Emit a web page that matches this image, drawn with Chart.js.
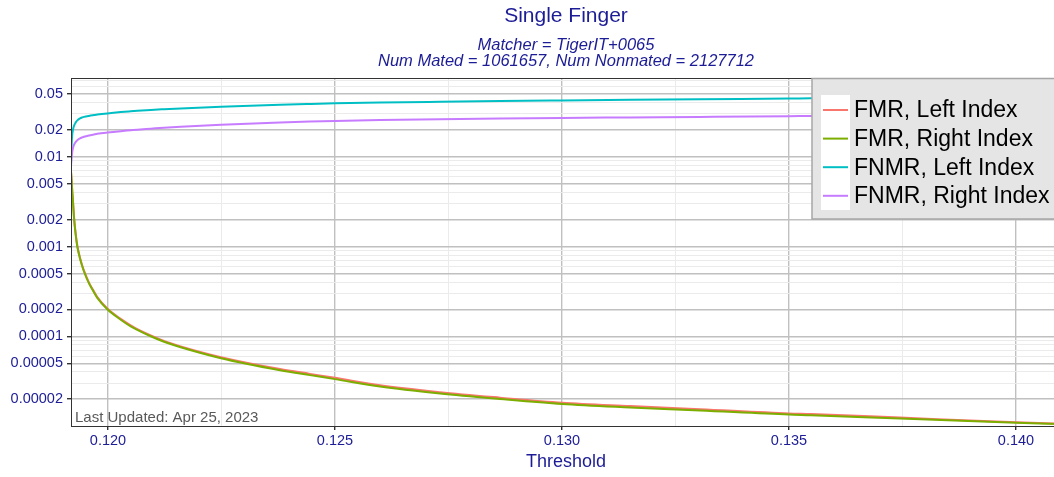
<!DOCTYPE html>
<html>
<head>
<meta charset="utf-8">
<title>Single Finger</title>
<script src="https://cdn.jsdelivr.net/npm/chart.js@4.4.0/dist/chart.umd.min.js"></script>
<style>
  html, body { margin: 0; padding: 0; background: #fff; overflow: hidden; }
  #wrap { width: 1070px; height: 477px; }
</style>
</head>
<body>
<div id="wrap"><canvas id="detChart" width="1070" height="477"></canvas></div>
<script>
// thresholds shared by all four curves
const thresholds = [
  0.119185, 0.119195, 0.119205, 0.119214, 0.119230, 0.119251, 0.119290, 0.119324,
  0.119383, 0.119434, 0.119471, 0.119581, 0.119692, 0.119764, 0.119985, 0.120280,
  0.120500, 0.120645, 0.120941, 0.121233, 0.121601, 0.122489, 0.123789, 0.124449,
  0.125000, 0.125991, 0.127313, 0.128634, 0.130000, 0.131500, 0.133040, 0.135000,
  0.135485, 0.137445, 0.140000, 0.140991
];

const fmrLeft = [
  0.00695, 0.00582, 0.00486, 0.00406, 0.00314, 0.00214, 0.00136, 0.00102,
  0.000751, 0.000611, 0.000538, 0.000396, 0.000315, 0.000274, 0.000204, 0.000156,
  0.000132, 0.000120, 0.000102, 0.0000887, 0.0000772, 0.0000585, 0.0000431, 0.0000381,
  0.0000344, 0.0000284, 0.0000238, 0.0000207, 0.0000182, 0.0000167, 0.0000154, 0.0000138,
  0.0000136, 0.0000124, 0.0000110, 0.0000106
];

const fmrRight = [
  0.00681, 0.00570, 0.00476, 0.00398, 0.00308, 0.00210, 0.00133, 0.00100,
  0.000736, 0.000599, 0.000527, 0.000388, 0.000308, 0.000268, 0.000200, 0.000153,
  0.000129, 0.000118, 0.000100, 0.0000869, 0.0000755, 0.0000570, 0.0000419, 0.0000369,
  0.0000333, 0.0000275, 0.0000230, 0.0000200, 0.0000176, 0.0000161, 0.0000149, 0.0000134,
  0.0000132, 0.0000121, 0.0000109, 0.0000105
];

const fnmrLeft = [
  0.00858, 0.01259, 0.01585, 0.01802, 0.02021, 0.02211, 0.02417, 0.02545,
  0.02678, 0.02747, 0.02783, 0.02855, 0.02914, 0.02951, 0.03043, 0.03146,
  0.03211, 0.03252, 0.03328, 0.03388, 0.03458, 0.03612, 0.03802, 0.03881,
  0.03941, 0.04023, 0.04106, 0.04181, 0.04245, 0.04311, 0.04378, 0.04457,
  0.04480, 0.04549, 0.04631, 0.04655
];

const fnmrRight = [
  0.00794, 0.00926, 0.01052, 0.01151, 0.01259, 0.01359, 0.01468, 0.01533,
  0.01605, 0.01647, 0.01673, 0.01729, 0.01774, 0.01802, 0.01862, 0.01930,
  0.01975, 0.02006, 0.02058, 0.02111, 0.02166, 0.02279, 0.02411, 0.02467,
  0.02505, 0.02564, 0.02624, 0.02671, 0.02712, 0.02747, 0.02783, 0.02833,
  0.02848, 0.02892, 0.02944, 0.02967
];

const seriesNames = ["FMR, Left Index", "FMR, Right Index", "FNMR, Left Index", "FNMR, Right Index"];
const seriesColors = ["#F8766D", "#7CAE00", "#00BFC4", "#C77CFF"];

const yTickValues = [0.05, 0.02, 0.01, 0.005, 0.002, 0.001, 0.0005, 0.0002, 0.0001, 0.00005, 0.00002];
const yTickLabels = ["0.05", "0.02", "0.01", "0.005", "0.002", "0.001", "0.0005", "0.0002", "0.0001", "0.00005", "0.00002"];
const yMinorValues = [
  0.07, 0.06, 0.04, 0.03,
  0.009, 0.008, 0.007, 0.006, 0.004, 0.003,
  0.0009, 0.0008, 0.0007, 0.0006, 0.0004, 0.0003,
  0.00009, 0.00008, 0.00007, 0.00006, 0.00004, 0.00003
];
const xTickValues = [0.120, 0.125, 0.130, 0.135, 0.140];
const xTickLabels = ["0.120", "0.125", "0.130", "0.135", "0.140"];
const xMinorValues = [0.1225, 0.1275, 0.1325, 0.1375];

const titleText = "Single Finger";
const subtitleLines = ["Matcher = TigerIT+0065", "Num Mated = 1061657, Num Nonmated = 2127712"];
const footNote = "Last Updated: Apr 25, 2023";

const BLUE = "#1c1c96";
const FONT = "'Liberation Sans', Arial, Helvetica, sans-serif";
const MAJOR_GRID = "#c0c0c0";
const MINOR_GRID = "#ebebeb";

Chart.defaults.font.family = FONT;

function makeSeries(values) {
  return thresholds.map((t, i) => ({ x: t, y: values[i] }));
}

// title, legend, border and footnote, drawn around the panel like the R plot
const decorPlugin = {
  id: "decor",
  afterDraw(chart) {
    const ctx = chart.ctx;
    const area = chart.chartArea;
    const cx = (area.left + area.right) / 2;
    ctx.save();

    // panel border
    ctx.strokeStyle = "#333333";
    ctx.lineWidth = 1;
    ctx.strokeRect(area.left + 0.5, area.top + 0.5, area.right - area.left, area.bottom - area.top);

    // footnote
    ctx.fillStyle = "#595959";
    ctx.font = "15px " + FONT;
    ctx.textAlign = "left";
    ctx.textBaseline = "middle";
    ctx.fillText(footNote, area.left + 4, 418);

    // legend
    ctx.fillStyle = "#e5e5e5";
    ctx.fillRect(812, 78.5, 260, 140.5);
    ctx.strokeStyle = "#a6a6a6";
    ctx.lineWidth = 1.5;
    ctx.strokeRect(812, 78.5, 260, 140.5);
    ctx.fillStyle = "#ffffff";
    ctx.fillRect(821, 95, 29, 115);
    ctx.font = "23px " + FONT;
    chart.data.datasets.forEach((ds, i) => {
      const y = 110 + i * 28.6;
      ctx.strokeStyle = ds.borderColor;
      ctx.lineWidth = 2;
      ctx.beginPath();
      ctx.moveTo(823, y);
      ctx.lineTo(848, y);
      ctx.stroke();
      ctx.fillStyle = "#000000";
      ctx.fillText(ds.label, 854, y + 1);
    });

    // titles
    ctx.fillStyle = BLUE;
    ctx.textAlign = "center";
    ctx.font = "21px " + FONT;
    ctx.fillText(titleText, cx, 16);
    ctx.font = "italic 16.5px " + FONT;
    subtitleLines.forEach((line, i) => ctx.fillText(line, cx, 45.5 + i * 16));

    ctx.restore();
  }
};

const ctx = document.getElementById("detChart");

new Chart(ctx, {
  type: "line",
  data: {
    datasets: [fmrLeft, fmrRight, fnmrLeft, fnmrRight].map((vals, i) => ({
      label: seriesNames[i],
      data: makeSeries(vals),
      borderColor: seriesColors[i],
      backgroundColor: seriesColors[i],
      borderWidth: 2,
      pointRadius: 0,
      fill: false,
      cubicInterpolationMode: "monotone",
      order: 4 - i
    }))
  },
  options: {
    responsive: false,
    animation: false,
    layout: { padding: { top: 78, right: 9, left: 0, bottom: 0 } },
    plugins: {
      legend: { display: false },
      title: { display: false },
      tooltip: { enabled: false }
    },
    scales: {
      x: {
        type: "linear",
        min: 0.119185,
        max: 0.140991,
        afterBuildTicks: (scale) => {
          scale.ticks = xTickValues.concat(xMinorValues).map(v => ({ value: v }));
        },
        afterFit: (scale) => { scale.height = 51; },
        ticks: {
          autoSkip: false,
          maxRotation: 0,
          color: BLUE,
          font: { size: 14.5 },
          padding: 2,
          callback: (v) => {
            const i = xTickValues.indexOf(v);
            return i >= 0 ? xTickLabels[i] : "";
          }
        },
        grid: {
          color: (c) => xTickValues.includes(c.tick.value) ? MAJOR_GRID : MINOR_GRID,
          lineWidth: (c) => xTickValues.includes(c.tick.value) ? 1.4 : 1,
          tickColor: (c) => xTickValues.includes(c.tick.value) ? "#333333" : "rgba(0,0,0,0)",
          tickLength: 4
        },
        border: { display: false },
        title: {
          display: true,
          text: "Threshold",
          color: BLUE,
          font: { size: 18 },
          padding: { top: 0, bottom: 4 }
        }
      },
      y: {
        type: "logarithmic",
        min: 0.00001,
        max: 0.0755,
        afterBuildTicks: (scale) => {
          scale.ticks = yTickValues.concat(yMinorValues).map(v => ({ value: v }));
        },
        afterFit: (scale) => { scale.width = 71; },
        ticks: {
          autoSkip: false,
          color: BLUE,
          font: { size: 14.5 },
          padding: 4,
          callback: (v) => {
            const i = yTickValues.indexOf(v);
            return i >= 0 ? yTickLabels[i] : "";
          }
        },
        grid: {
          color: (c) => yTickValues.includes(c.tick.value) ? MAJOR_GRID : MINOR_GRID,
          lineWidth: (c) => yTickValues.includes(c.tick.value) ? 1.4 : 1,
          tickColor: (c) => yTickValues.includes(c.tick.value) ? "#333333" : "rgba(0,0,0,0)",
          tickLength: 4
        },
        border: { display: false }
      }
    }
  },
  plugins: [decorPlugin]
});
</script>
</body>
</html>
